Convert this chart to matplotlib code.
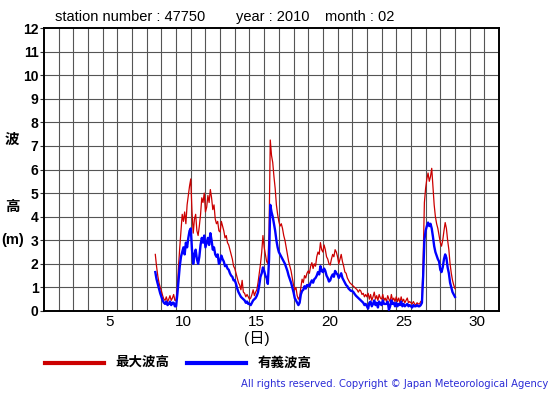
import numpy as np
import matplotlib
matplotlib.use("Agg")
import matplotlib.pyplot as plt

# ---- data: 2-hourly values, starting day 7 hour 14 (t in days from start of month) ----
start_day = 7 + 14 / 24.0
step_day = 2 / 24.0

max_wave = [
    # day 7 (14h-22h)
    2.4, 1.9, 1.5, 1.2, 1.0,
    # day 8
    0.85, 0.65, 0.5, 0.45, 0.6, 0.4, 0.5, 0.65, 0.45, 0.55, 0.7, 0.45,
    # day 9
    0.45, 1.0, 1.9, 2.7, 3.4, 4.1, 3.8, 4.2, 3.7, 4.5, 4.9, 5.3,
    # day 10
    5.6, 4.2, 3.3, 3.9, 4.1, 3.4, 3.2, 3.6, 4.1, 4.8, 4.6, 5.0,
    # day 11
    4.2, 4.4, 4.9, 4.6, 5.15, 4.8, 4.3, 4.5, 3.9, 3.7, 3.8, 3.4,
    # day 12
    3.35, 3.8, 3.6, 3.4, 3.1, 3.2, 2.9, 2.8, 2.6, 2.4, 2.2, 1.9,
    # day 13
    1.8, 1.6, 1.4, 1.2, 1.1, 0.9, 1.3, 0.8, 0.75, 0.6, 0.7, 0.6,
    # day 14
    0.5, 0.55, 0.7, 0.9, 0.65, 0.8, 0.9, 1.2, 1.6, 2.0, 2.5, 3.2,
    # day 15
    2.7, 2.4, 2.1, 2.0, 3.3, 7.25, 6.6, 6.3, 5.7, 5.2, 4.5, 4.1,
    # day 16
    3.8, 3.6, 3.7, 3.5, 3.2, 3.0, 2.7, 2.4, 2.1, 1.9, 1.7, 1.4,
    # day 17
    1.1, 0.9, 1.0, 0.65, 0.5, 0.6, 1.0, 1.35, 1.2, 1.5, 1.4, 1.6,
    # day 18
    1.7, 1.6, 1.9, 2.05, 1.8, 2.0, 1.9, 2.3, 2.5, 2.4, 2.9, 2.6,
    # day 19
    2.5, 2.8, 2.6, 2.3, 2.2, 2.0, 1.95, 2.2, 2.4, 2.3, 2.6, 2.5,
    # day 20
    2.3, 2.0, 2.2, 2.4, 2.1, 1.9, 1.65, 1.6, 1.4, 1.3, 1.2, 1.15,
    # day 21
    1.1, 1.05, 1.0, 0.95, 0.9, 0.8, 0.9, 0.85, 0.7, 0.75, 0.6, 0.7,
    # day 22
    0.6, 0.75, 0.5, 0.7, 0.45, 0.6, 0.8, 0.5, 0.65, 0.45, 0.7, 0.55,
    # day 23
    0.5, 0.7, 0.45, 0.55, 0.4, 0.65, 0.5, 0.4, 0.7, 0.45, 0.55, 0.4,
    # day 24
    0.6, 0.4, 0.55, 0.35, 0.6, 0.4, 0.5, 0.35, 0.45, 0.55, 0.35, 0.4,
    # day 25
    0.35, 0.3, 0.4, 0.3, 0.25, 0.35, 0.3, 0.3, 0.4, 0.45, 2.2, 4.6,
    # day 26
    5.2, 5.6, 5.85, 5.5, 5.7, 6.05, 5.3, 4.5, 4.0, 3.7, 3.5, 3.2,
    # day 27
    2.9, 2.75, 3.0, 3.4, 3.75, 3.5, 3.0, 2.6, 2.0, 1.6, 1.3, 1.1,
    # day 28 0h
    0.95,
]

sig_wave = [
    # day 7
    1.65, 1.35, 1.15, 0.95, 0.75,
    # day 8
    0.6, 0.45, 0.35, 0.3, 0.4, 0.25, 0.3, 0.4, 0.25, 0.35, 0.35, 0.2,
    # day 9
    0.2, 0.7, 1.3, 1.9, 2.3, 2.5, 2.7, 2.4, 2.9, 2.7, 3.1, 3.4,
    # day 10
    3.5, 2.6, 2.0, 2.4, 2.6, 2.2, 2.0, 2.3, 2.8, 3.1, 2.9, 3.2,
    # day 11
    2.7, 2.9, 3.1, 2.8, 3.3, 3.0, 2.6, 2.7, 2.4, 2.3, 2.4, 2.0,
    # day 12
    2.1, 2.35, 2.2, 2.1, 1.9, 1.95, 1.8, 1.75, 1.6, 1.5, 1.45, 1.3,
    # day 13
    1.3, 1.15, 0.95, 0.8, 0.7, 0.6, 0.55, 0.5, 0.45, 0.35, 0.4, 0.3,
    # day 14
    0.3, 0.25, 0.35, 0.45, 0.5, 0.55, 0.65, 0.8, 1.1, 1.45, 1.6, 1.85,
    # day 15
    1.7, 1.5, 1.4, 1.15, 2.2, 4.5, 4.2, 4.0, 3.7, 3.4, 3.0, 2.7,
    # day 16
    2.5, 2.4, 2.3, 2.2, 2.1, 2.0, 1.85, 1.7, 1.5, 1.35, 1.2, 1.0,
    # day 17
    0.8, 0.55, 0.45, 0.35, 0.25, 0.35, 0.7, 0.85, 0.9, 1.05, 0.95, 1.1,
    # day 18
    1.1, 1.05, 1.2, 1.3, 1.2, 1.35, 1.4, 1.5, 1.65, 1.55, 1.9, 1.7,
    # day 19
    1.65, 1.8, 1.7, 1.5, 1.4, 1.25, 1.3, 1.45, 1.55, 1.45, 1.7, 1.6,
    # day 20
    1.55, 1.4, 1.5, 1.6, 1.4, 1.3, 1.2, 1.1, 1.05, 0.95, 0.9, 0.85,
    # day 21
    0.85, 0.8, 0.72, 0.65, 0.6, 0.55, 0.5, 0.45, 0.4, 0.35, 0.25, 0.3,
    # day 22
    0.2, 0.1, 0.35, 0.4, 0.2, 0.3, 0.45, 0.25, 0.35, 0.15, 0.4, 0.3,
    # day 23
    0.25, 0.45, 0.3, 0.3, 0.3, 0.4, 0.05, 0.2, 0.45, 0.3, 0.35, 0.2,
    # day 24
    0.35, 0.2, 0.3, 0.25, 0.4, 0.2, 0.3, 0.2, 0.25, 0.3, 0.2, 0.25,
    # day 25
    0.2, 0.15, 0.25, 0.2, 0.2, 0.25, 0.2, 0.2, 0.25, 0.35, 1.5, 3.0,
    # day 26
    3.4, 3.6, 3.75, 3.6, 3.7, 3.5, 3.15, 2.75, 2.5, 2.35, 2.2, 2.1,
    # day 27
    1.75, 1.65, 1.85, 2.2, 2.4, 2.25, 1.85, 1.6, 1.2, 1.0, 0.8, 0.7,
    # day 28 0h
    0.6,
]

x_tick_values = [5, 10, 15, 20, 25, 30]
y_tick_values = list(range(0, 13))

title_parts = ["station number : 47750", "year : 2010", "month : 02"]
legend_labels = ["最大波高", "有義波高"]
copyright_text = "All rights reserved. Copyright \u00a9 Japan Meteorological Agency"

RED = "#cc0000"
BLUE = "#0000ff"

plt.rcParams['font.family'] = ['Liberation Sans', 'Noto Sans CJK JP', 'DejaVu Sans']

fig = plt.figure(figsize=(5.55, 3.95), dpi=100)
fig.patch.set_facecolor("white")
ax = fig.add_axes([44/555, (395-311)/395, (499-44)/555, (311-28)/395])

t = start_day + step_day * np.arange(len(max_wave))
ax.plot(t, max_wave, color=RED, lw=0.9, zorder=3)
ax.plot(t, sig_wave, color=BLUE, lw=1.7, zorder=4)

ax.set_xlim(0, 31)
ax.set_ylim(0, 12)

# grid
for d in range(1, 31):
    ax.axvline(d, color="#555555", lw=0.8, zorder=1)
for v in range(1, 12):
    ax.axhline(v, color="#555555", lw=0.8, zorder=1)

ax.set_xticks([x - 0.5 for x in x_tick_values])
ax.set_xticklabels([str(x) for x in x_tick_values], fontsize=11)
ax.tick_params(axis="x", length=0, pad=3)
ax.set_yticks(y_tick_values)
ax.set_yticklabels([str(v) for v in y_tick_values], fontsize=10, fontweight="bold")
ax.tick_params(axis="y", length=3, width=0.8, pad=1, color="#333333")
for s in ax.spines.values():
    s.set_linewidth(1.4)
    s.set_color("black")

# title parts
fig.text(55/555, 1 - 17/395, title_parts[0], fontsize=10.5, va="center", ha="left")
fig.text(236/555, 1 - 17/395, title_parts[1], fontsize=10.5, va="center", ha="left")
fig.text(325/555, 1 - 17/395, title_parts[2], fontsize=10.5, va="center", ha="left")

# y-axis label (vertical Japanese)
fig.text(12/555, 1 - 140/395, "波", fontsize=10.5, fontweight="bold", ha="center", va="center")
fig.text(12/555, 1 - 207/395, "高", fontsize=10.5, fontweight="bold", ha="center", va="center")
fig.text(13/555, 1 - 240/395, "(m)", fontsize=10.5, fontweight="bold", ha="center", va="center")

# x-axis label
fig.text(257/555, 1 - 338/395, "(日)", fontsize=11, ha="center", va="center")

# legend
ly = 1 - 363/395
fig.add_artist(plt.Line2D([45/555, 104/555], [ly, ly], color=RED, lw=3, transform=fig.transFigure))
fig.text(115/555, ly, legend_labels[0], fontsize=9.7, fontweight="bold", ha="left", va="center")
fig.add_artist(plt.Line2D([187/555, 246/555], [ly, ly], color=BLUE, lw=3, transform=fig.transFigure))
fig.text(258/555, ly, legend_labels[1], fontsize=9.7, fontweight="bold", ha="left", va="center")

# copyright
fig.text(548/555, 1 - 384/395, copyright_text, fontsize=7.2, color="#2b2bd6",
         ha="right", va="center", family="DejaVu Sans")

fig.savefig("out.png", dpi=100, facecolor="white")
